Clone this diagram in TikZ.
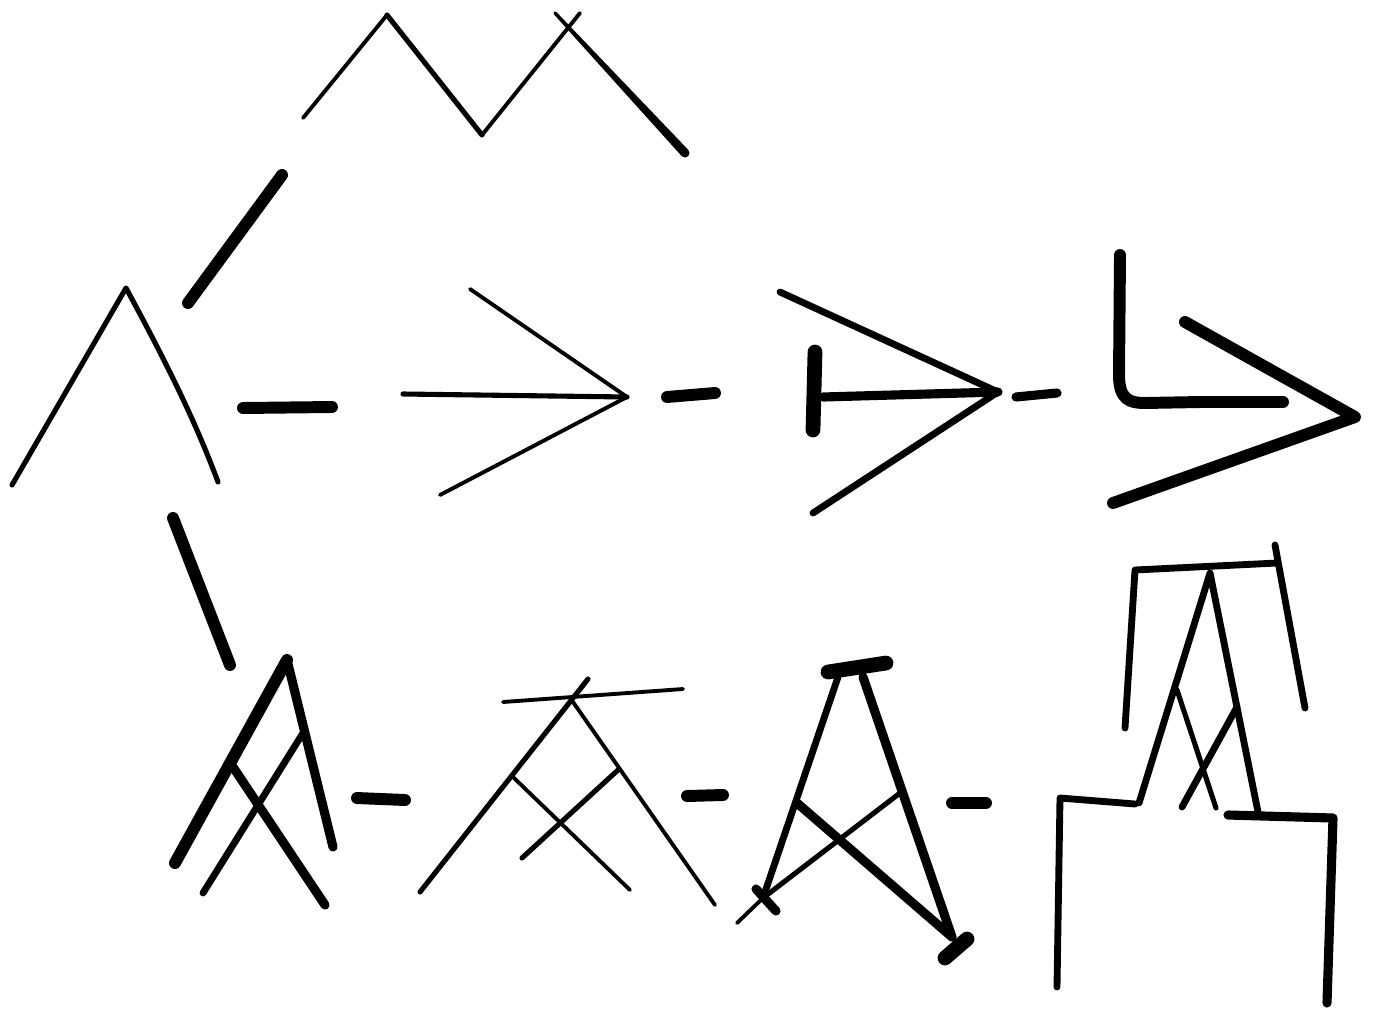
\documentclass[tikz,border=0pt]{standalone}
\begin{document}
\begin{tikzpicture}[x=0.02cm,y=-0.02cm,
  pen/.style={draw=black,line cap=round,line join=round},
  wA/.style={pen,line width=2.2pt},
  wB/.style={pen,line width=2.9pt},
  wC/.style={pen,line width=3.9pt},
  wD/.style={pen,line width=5.2pt},
  wE/.style={pen,line width=6.8pt},
  wF/.style={pen,line width=8.4pt}]
\fill[white] (0,0) rectangle (1376,1008);
\useasboundingbox (0,0) rectangle (1376,1008);
% top zigzag
\draw[wA] (303,118) -- (387,15);
\draw[wB] (387,15) -- (482,135);
\draw[wA] (482,135) -- (580,13);
\fill[black] (553.8,14.2) -- (556.2,11.8) -- (688.3,149.9) -- (681.7,156.1) -- cycle;
\fill[black] (685,153) circle (4.5);
\fill[black] (555,13) circle (1.7);
% thick slash
\draw[wE] (282,175) -- (188,303);
% caret
\draw[wB] (12,485) -- (126,288) .. controls (165,360) and (195,420) .. (218,482);
\draw[wE] (243,408) -- (332,407);
% thin arrow
\draw[wB] (403,394) -- (627,397);
\draw[wA] (470,289) -- (627,397) -- (440,495);
\draw[wE] (667,397) -- (715,393);
% T arrow
\draw[wC] (780,292) -- (998,392) -- (813,513);
\draw[wD] (823,397) -- (998,392);
\draw[wF] (815,352) -- (813,430);
\draw[wD] (1016,397) -- (1057,393);
% L and chevron
\draw[wE] (1120,255) -- (1119,375) .. controls (1119,400) and (1130,403) .. (1145,403) -- (1200,402) -- (1283,402);
\draw[wE] (1185,322) -- (1355,417) -- (1113,503);
% slash down
\draw[wE] (173,518) -- (230,665);
% A with crossings
\draw[wE] (175,863) -- (287,660);
\draw[wD] (287,660) -- (333,847);
\draw[wD] (233,767) -- (325,905);
\draw[wC] (303,733) -- (203,893);
\draw[wE] (357,798) -- (405,800);
% thin A with top bar
\draw[wA] (503,702) -- (683,689);
\draw[wB] (588,679) -- (420,892);
\draw[wA] (573,702) -- (715,905);
\draw[wA] (513,777) -- (630,890);
\draw[wB] (618,770) -- (522,858);
\draw[wE] (687,796) -- (723,795);
% tripod A
\draw[wF] (828,672) -- (886,663);
\draw[wC] (838,677) -- (763,898);
\draw[wA] (763,898) -- (737,923);
\draw[wD] (863,677) -- (952,937);
\draw[wD] (797,803) -- (952,937);
\draw[wB] (900,793) -- (763,898);
\draw[wF] (945,958) -- (967,939);
\draw[wD] (756,889) -- (776,911);
\draw[wE] (952,803) -- (986,803);
% right tower
\draw[wC] (1125,728) -- (1135,570) -- (1277,563);
\draw[wC] (1275,545) -- (1305,708);
\draw[wC] (1139,803) -- (1210,573) -- (1258,812);
\draw[wB] (1177,690) -- (1216,808);
\draw[wC] (1237,707) -- (1182,807);
\draw[wC] (1135,804) -- (1060,798) -- (1057,987);
\draw[wD] (1228,815) -- (1333,818) -- (1327,1003);
\end{tikzpicture}
\end{document}
